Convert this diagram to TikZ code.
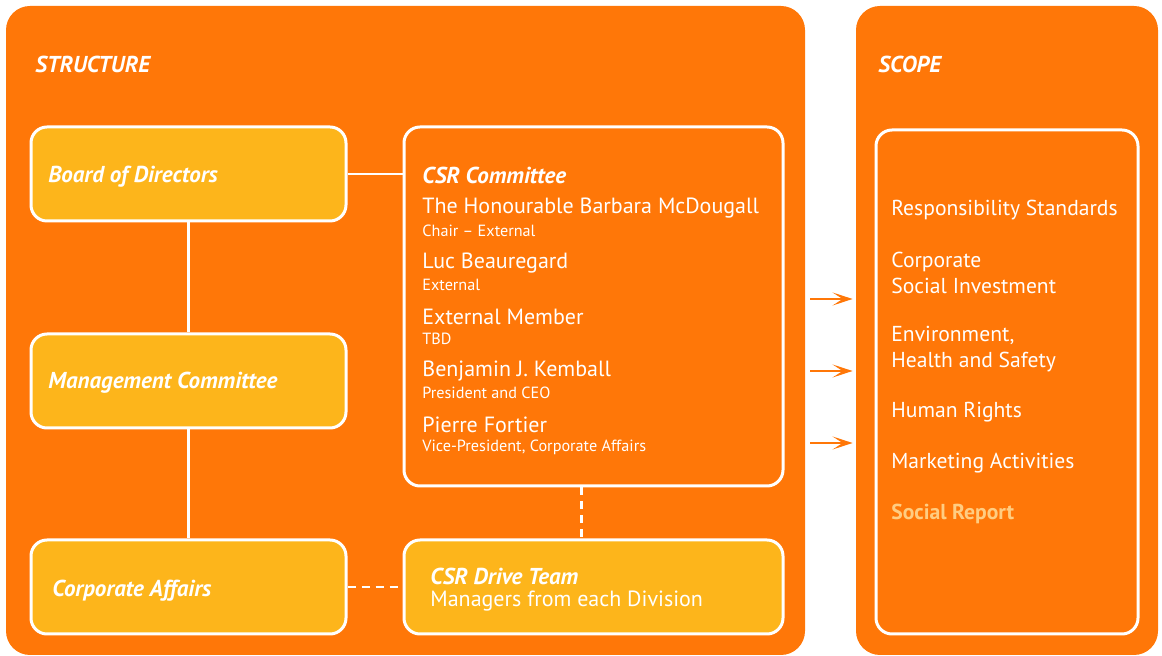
\documentclass[tikz,border=0pt]{standalone}
\usepackage{fontspec}
\setmainfont{PT Sans}
\usepackage{tikz}
\usetikzlibrary{fit,arrows.meta}
\definecolor{csrorange}{RGB}{255,119,8}
\definecolor{csryellow}{RGB}{253,181,27}
\definecolor{reportyellow}{RGB}{255,205,130}
\tikzset{%
    heading/.style={anchor=west,inner sep=0pt,text=white,
        font=\bfseries\itshape\fontsize{11.5}{13}\selectfont},
    member/.style={anchor=west,inner sep=0pt,text=white,
        font=\fontsize{11}{12}\selectfont},
    role/.style={anchor=west,inner sep=0pt,text=white,
        font=\fontsize{8.1}{9}\selectfont},
    topic/.style={anchor=west,inner sep=0pt,text=white,align=left,
        font=\fontsize{10.8}{13}\selectfont}
}

\begin{document}
\begin{tikzpicture}[x=0.5pt,y=-0.5pt,
  panel/.style={fill=csrorange,rounded corners=12pt,inner sep=0pt},
  unit/.style={draw=white,line width=1.5pt,fill=csryellow,rounded corners=8pt,inner sep=0pt},
  frame/.style={draw=white,line width=1.5pt,rounded corners=8pt,inner sep=0pt},
  link/.style={draw=white,line width=1.2pt},
  dotlink/.style={link,dash pattern=on 4pt off 3pt},
  flow/.style={draw=csrorange,line width=1pt,-{Stealth[length=10pt,width=6.5pt,inset=5pt]}}]

  \useasboundingbox (0,0) rectangle (1162,656);
  \node[panel,fit={(6,6) (805,655)}] (structure) {};
  \node[panel,fit={(856,6) (1158,655)}] (scope) {};

  \node[heading] (structuretitle) at (35,64) {STRUCTURE};
  \node[heading] (scopetitle) at (878,64) {SCOPE};

  \node[unit,fit={(31,127) (346,221)}] (board) {};
  \node[unit,fit={(31,334) (346,428)}] (mgmt) {};
  \node[unit,fit={(31,540) (346,634)}] (affairs) {};
  \node[frame,fit={(404,127) (783,486)}] (csr) {};
  \node[unit,fit={(404,540) (783,634)}] (drive) {};
  \node[frame,fit={(876,130) (1138,634)}] (topics) {};

  \node[heading] (boardtext) at (48,177) {Board of Directors};
  \node[heading] (mgmttext) at (48,383) {Management Committee};
  \node[heading] (affairstext) at (52,591) {Corporate Affairs};

  % committee members
  \node[heading] (csrtext) at (422,175) {CSR Committee};
  \node[member] (m1) at (422,208) {The Honourable Barbara McDougall};
  \node[role] (r1) at (422,231) {Chair -- External};
  \node[member] (m2) at (422,263) {Luc Beauregard};
  \node[role] (r2) at (422,285) {External};
  \node[member] (m3) at (422,317) {External Member};
  \node[role] (r3) at (422,339) {TBD};
  \node[member] (m4) at (422,371) {Benjamin J. Kemball};
  \node[role] (r4) at (422,393) {President and CEO};
  \node[member] (m5) at (422,425) {Pierre Fortier};
  \node[role] (r5) at (422,447) {Vice-President, Corporate Affairs};

  \node[heading] (drivetext) at (430,576) {CSR Drive Team};
  \node[member] (drivesub) at (430,601) {Managers from each Division};

  % scope
  \node[topic] (t1) at (891,210) {Responsibility Standards};
  \node[topic] (t2) at (891,273) {Corporate\\Social Investment};
  \node[topic] (t3) at (891,349) {Environment,\\Health and Safety};
  \node[topic] (t4) at (891,412) {Human Rights};
  \node[topic] (t5) at (891,463) {Marketing Activities};
  \node[topic,text=reportyellow,font=\bfseries\fontsize{10.8}{13}\selectfont] (t6) at (891,514) {Social Report};

  \path[link] (board.east) -- (board.east -| csr.west);
  \path[link] (board.south) -- (mgmt.north);
  \path[link] (mgmt.south) -- (affairs.north);
  \path[dotlink] ([xshift=-6pt]csr.south) -- ([xshift=-6pt]csr.south |- drive.north);
  \path[dotlink] (affairs.east) -- (affairs.east -| drive.west);

  \coordinate (a1) at (810,299);
  \coordinate (a2) at (810,371);
  \coordinate (a3) at (810,443);
  \path[flow] (a1) -- ([xshift=-1.5pt]a1 -| scope.west);
  \path[flow] (a2) -- ([xshift=-1.5pt]a2 -| scope.west);
  \path[flow] (a3) -- ([xshift=-1.5pt]a3 -| scope.west);
\end{tikzpicture}
\end{document}
